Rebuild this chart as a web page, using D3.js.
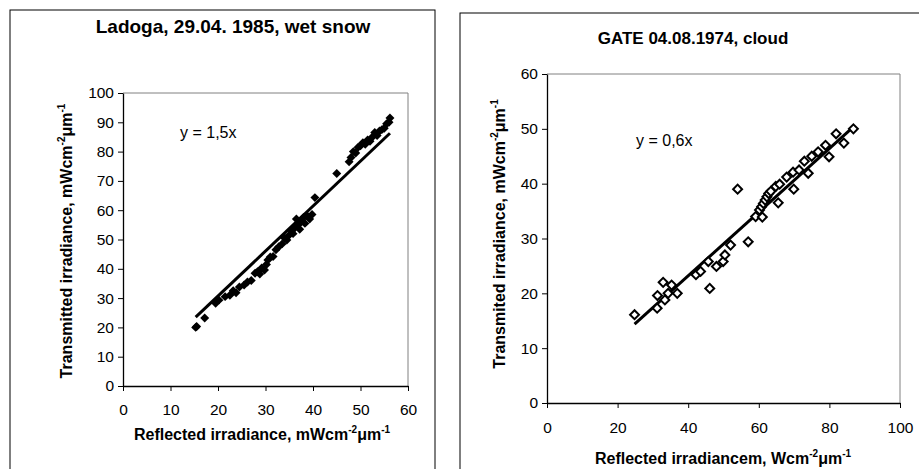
<!DOCTYPE html>
<html>
<head>
<meta charset="utf-8">
<script src="https://cdn.jsdelivr.net/npm/d3@7"></script>
<style>
  body { margin: 0; background: #fff; }
  svg { font-family: "Liberation Sans", Arial, sans-serif; }
</style>
</head>
<body>
<svg id="chart" width="919" height="469"></svg>
<script>
// Ladoga, 29.04.1985, wet snow
const ladogaX = [15.3, 15.5, 17.2, 19.5, 20.2, 21.5, 22.5, 23.2, 23.8, 24.5, 25.5, 26.2, 27, 27.8, 28.3, 28.8, 29.2, 29.8,
  30.2, 30.5, 31, 31.6, 32.2, 32.8, 33.5, 34, 34.5, 35, 35.5, 35.8, 36.2, 36.5, 36.8, 37.2, 37.5, 38, 38.3, 38.8, 39.3, 39.8,
  40.4, 45, 47.6, 48, 48.5, 49, 49.5, 50, 50.5, 51, 51.5, 52, 52.5, 53, 53.5, 54, 54.5, 55, 55.5, 56, 56.2];
const ladogaY = [20, 20.3, 23.2, 28.2, 29.3, 30.5, 31, 32.5, 31.8, 33.8, 34.5, 35.5, 36, 38.5, 39, 38.2, 40.3, 39.6,
  41.5, 43, 44, 44.2, 46.5, 47.5, 48.5, 50.5, 49.8, 51.5, 53, 52, 54, 57, 55, 53.5, 56, 57.5, 55.5, 58, 57, 58.5,
  64.3, 72.5, 76.5, 78, 80, 79.5, 81.5, 82, 83, 82.5, 84, 83.5, 85, 86.5, 85.5, 87, 87.5, 88, 89.5, 90, 91.5];
const ladogaSlope = 1.535;

// GATE 04.08.1974, cloud
const gateX = [24.8, 31.2, 31.3, 32.9, 33.4, 35.3, 34.3, 36.9, 42.2, 43.5, 45.7, 46.1, 48, 49.9, 50.4, 52, 54, 57,
  59.1, 61, 60.2, 60.8, 61.3, 61.8, 62.3, 62.8, 63.4, 64.8, 65.9, 65.5, 67.9, 69.7, 69.9, 71.4, 72.9, 74, 75, 76.8,
  78.9, 79.9, 81.9, 84.1, 86.8];
const gateY = [16.1, 17.3, 19.6, 22, 18.8, 21.5, 20, 20, 23.4, 24, 25.8, 20.9, 24.9, 25.8, 27, 28.8, 39, 29.4,
  34, 33.9, 35.2, 35.8, 36.4, 37, 37.6, 38.2, 38.6, 39.5, 39.9, 36.5, 41.2, 42.1, 39, 42.5, 44.1, 41.9, 45, 45.8,
  47, 44.9, 49.1, 47.4, 50];
const gateSlope = 0.58;

const ladogaXTicks = [0, 10, 20, 30, 40, 50, 60];
const ladogaYTicks = [0, 10, 20, 30, 40, 50, 60, 70, 80, 90, 100];
const gateXTicks = [0, 20, 40, 60, 80, 100];
const gateYTicks = [0, 10, 20, 30, 40, 50, 60];

const svg = d3.select('#chart');

// write text with superscript parts: [[text, isSup], ...]
function richText(sel, parts) {
  parts.forEach(([t, sup], i) => {
    const prevSup = i > 0 && parts[i - 1][1];
    sel.append('tspan')
      .attr('dy', sup ? -7 : (prevSup ? 7 : 0))
      .attr('font-size', sup ? '10px' : null)
      .text(t);
  });
}

function panel(cfg) {
  // outer frame
  svg.append('rect')
    .attr('x', cfg.frame[0]).attr('y', cfg.frame[1])
    .attr('width', cfg.frame[2]).attr('height', cfg.frame[3])
    .attr('fill', 'none').attr('stroke', '#000').attr('stroke-width', 1);

  const x = d3.scaleLinear().domain(cfg.xDomain).range([cfg.left, cfg.right]);
  const y = d3.scaleLinear().domain(cfg.yDomain).range([cfg.bottom, cfg.top]);

  // plot area top/right border
  svg.append('path')
    .attr('d', `M${cfg.left},${cfg.top}H${cfg.right}V${cfg.bottom}`)
    .attr('fill', 'none').attr('stroke', '#808080').attr('stroke-width', 1);

  const xAxis = svg.append('g')
    .attr('transform', `translate(0,${cfg.bottom})`)
    .call(d3.axisBottom(x).tickValues(cfg.xTicks).tickSize(5).tickPadding(cfg.xPad).tickSizeOuter(0));
  const yAxis = svg.append('g')
    .attr('transform', `translate(${cfg.left},0)`)
    .call(d3.axisLeft(y).tickValues(cfg.yTicks).tickSize(5).tickPadding(4).tickSizeOuter(0));
  [xAxis, yAxis].forEach(a => {
    a.selectAll('text').attr('font-size', cfg.tickFont).attr('fill', '#000')
      .attr('font-family', '"Liberation Sans", Arial, sans-serif');
    a.selectAll('line').attr('stroke', '#000');
    a.select('.domain').attr('stroke', '#000').attr('stroke-width', 1.3);
  });

  // trend line y = k x
  const [x0, x1] = d3.extent(cfg.xs);
  svg.append('line')
    .attr('x1', x(x0)).attr('y1', y(cfg.slope * x0))
    .attr('x2', x(x1)).attr('y2', y(cfg.slope * x1))
    .attr('stroke', '#000').attr('stroke-width', 3);

  // markers
  const sym = d3.symbol().type(d3.symbolSquare).size(cfg.markerSize);
  svg.append('g').selectAll('path')
    .data(cfg.xs.map((v, i) => [v, cfg.ys[i]]))
    .join('path')
    .attr('d', sym)
    .attr('transform', d => `translate(${x(d[0])},${y(d[1])}) rotate(45)`)
    .attr('fill', cfg.filled ? '#000' : '#fff')
    .attr('stroke', '#000')
    .attr('stroke-width', cfg.filled ? 0 : 2);

  // equation
  svg.append('text')
    .attr('x', cfg.eq[0]).attr('y', cfg.eq[1])
    .attr('font-size', '16px')
    .text(cfg.eqText);

  // title
  svg.append('text')
    .attr('x', cfg.title[0]).attr('y', cfg.title[1])
    .attr('text-anchor', 'middle').attr('font-weight', 'bold')
    .attr('font-size', cfg.titleFont)
    .text(cfg.titleText);

  // axis titles
  richText(svg.append('text')
    .attr('x', cfg.xTitle[0]).attr('y', cfg.xTitle[1])
    .attr('text-anchor', 'middle').attr('font-weight', 'bold').attr('font-size', '16px'),
    cfg.xTitleParts);

  richText(svg.append('text')
    .attr('transform', `translate(${cfg.yTitle[0]},${cfg.yTitle[1]}) rotate(-90)`)
    .attr('text-anchor', 'middle').attr('font-weight', 'bold').attr('font-size', '16px'),
    cfg.yTitleParts);
}

panel({
  frame: [10, 10, 425, 480],
  left: 123, right: 408, top: 93, bottom: 386,
  xDomain: [0, 60], yDomain: [0, 100],
  xTicks: ladogaXTicks, yTicks: ladogaYTicks, xPad: 13, tickFont: '15.5px',
  xs: ladogaX, ys: ladogaY, slope: ladogaSlope,
  markerSize: 40, filled: true,
  eq: [180, 138], eqText: 'y = 1,5x',
  title: [233, 33], titleFont: '19px', titleText: 'Ladoga, 29.04. 1985, wet snow',
  xTitle: [262, 440],
  xTitleParts: [['Reflected irradiance, mWcm', 0], ['-2', 1], ['\u03bcm', 0], ['-1', 1]],
  yTitle: [72, 241],
  yTitleParts: [['Transmitted irradiance, mWcm', 0], ['-2', 1], ['\u03bcm', 0], ['-1', 1]]
});

panel({
  frame: [460, 13, 470, 480],
  left: 547, right: 900, top: 74, bottom: 403,
  xDomain: [0, 100], yDomain: [0, 60],
  xTicks: gateXTicks, yTicks: gateYTicks, xPad: 14, tickFont: '15.5px',
  xs: gateX, ys: gateY, slope: gateSlope,
  markerSize: 40, filled: false,
  eq: [636, 146], eqText: 'y = 0,6x',
  title: [693, 44], titleFont: '17px', titleText: 'GATE 04.08.1974, cloud',
  xTitle: [723, 464],
  xTitleParts: [['Reflected irradiancem, Wcm', 0], ['-2', 1], ['\u03bcm', 0], ['-1', 1]],
  yTitle: [505, 234],
  yTitleParts: [['Transmited irradiance, mWcm', 0], ['-2', 1], ['\u03bcm', 0], ['-1', 1]]
});
</script>
</body>
</html>
